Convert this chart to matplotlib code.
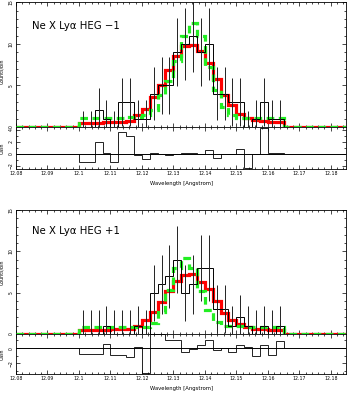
import numpy as np
import matplotlib
matplotlib.use("Agg")
import matplotlib.pyplot as plt
from matplotlib.ticker import MultipleLocator, FuncFormatter

# bin grid (Angstrom)
lam_lo = 12.1
bin_w = 0.0025
x_range = (12.08, 12.185)

# HEG -1
m1_counts = [0, 0, 2, 1, 0, 3, 3, 1, 1, 4, 5, 5, 9, 10, 11, 9, 10, 4, 4, 3, 3, 0, 1, 3, 1, 1]
m1_err = [1.9, 1.9, 2.7, 2.3, 1.9, 2.9, 2.9, 2.3, 2.3, 3.2, 3.4, 3.4, 4.1,
          4.3, 4.4, 4.1, 4.3, 3.2, 3.2, 2.9, 2.9, 1.9, 2.3, 2.9, 2.3, 2.3]
m1_red = [0.45, 0.5, 0.5, 0.55, 0.6, 0.65, 0.75, 1.4, 2.2, 3.6, 5.0, 6.9, 8.6,
          9.7, 9.9, 9.1, 7.7, 5.8, 3.9, 2.6, 1.6, 1.1, 0.85, 0.7, 0.65, 0.6]
m1_green = [1.1, 1.1, 1.1, 1.1, 1.1, 1.1, 1.2, 1.2, 1.4, 2.0, 3.8, 5.5, 8.0,
            11.0, 12.5, 11.0, 7.2, 4.5, 2.4, 1.4, 1.1, 1.1, 1.1, 1.1, 1.1, 1.1]
m1_resid = [-1.3, -1.3, 2.05, 0.2, -1.4, 3.7, 3.0, -0.2, -0.9, 0.1, 0.0, -0.1, 0.05,
            0.1, 0.15, 0.0, 0.7, -0.6, 0.0, 0.05, 0.8, -2.3, 0.0, 4.3, 0.2, 0.1]

# HEG +1
p1_counts = [0, 0, 0, 1, 0, 0, 0, 1, 0, 5, 6, 7, 9, 5, 6, 8, 8, 3, 3, 1, 2, 1, 0, 1, 0, 1]
p1_err = [2.9, 2.9, 2.9, 2.4, 2.9, 2.9, 2.9, 2.4, 2.9, 3.4, 3.6, 3.8, 4.1,
          3.4, 3.6, 4.0, 4.0, 2.9, 2.9, 2.4, 2.7, 2.4, 2.9, 2.4, 2.9, 2.4]
p1_red = [0.5, 0.5, 0.5, 0.5, 0.55, 0.55, 0.6, 1.0, 1.7, 2.7, 3.9, 5.2, 6.4,
          7.1, 7.2, 6.3, 5.4, 4.0, 2.6, 1.7, 1.2, 0.8, 0.6, 0.55, 0.5, 0.5]
p1_green = [0.8, 0.8, 0.8, 0.8, 0.8, 0.8, 0.8, 0.8, 0.9, 1.3, 2.7, 5.3, 8.0,
            9.2, 8.0, 5.2, 2.9, 1.5, 1.0, 1.0, 1.0, 0.9, 0.9, 0.9, 0.9, 0.9]
p1_resid = [-0.8, -0.8, -0.8, 0.5, -0.9, -0.9, -1.2, 0.1, -3.3, 1.9, 1.8, 1.1, 1.0,
            -0.45, -0.15, 0.35, 1.1, -0.2, 0.0, -0.45, 0.45, 0.1, -1.1, 0.35, -0.9, 0.9]

TICK_FS = 3.3


def fmt_x(v, pos):
    return ("%.2f" % v).rstrip("0").rstrip(".")


def style_axis(ax):
    ax.tick_params(which="both", direction="in", top=True, right=True,
                   width=0.5, labelsize=TICK_FS, pad=1.5)
    ax.tick_params(which="major", length=3)
    ax.tick_params(which="minor", length=1.5)
    ax.tick_params(axis="y", labelrotation=90)
    for lbl in ax.get_yticklabels():
        lbl.set_va("center")
    for s in ax.spines.values():
        s.set_linewidth(0.6)
    ax.xaxis.set_major_locator(MultipleLocator(0.01))
    ax.xaxis.set_minor_locator(MultipleLocator(0.002))
    ax.set_xlim(*x_range)


def draw_panel(fig, rect_main, rect_res, counts, err, red, green, resid,
               title, res_lim, res_ticks, title_y, ylab_y):
    n = len(counts)
    edges = lam_lo + bin_w * np.arange(n + 1)
    centers = 0.5 * (edges[:-1] + edges[1:])
    full_edges = np.concatenate([[x_range[0]], edges, [x_range[1]]])
    counts = np.array(counts, float)
    err = np.array(err, float)

    ax = fig.add_axes(rect_main)
    ax.stairs(np.concatenate([[0], red, [0]]), full_edges, baseline=None,
              color="#ff0000", lw=2.3, zorder=2)
    ax.stairs(np.concatenate([[0], green, [0]]), full_edges, baseline=None,
              color="#22ee22", lw=2.3, ls=(0, (2.4, 1.4)), zorder=3)
    ax.stairs(counts, edges, baseline=0, color="black", lw=0.7, zorder=4)
    ax.vlines(centers, counts - err, counts + err, color="#222222", lw=0.7, zorder=4)
    ax.set_ylim(0, 15)
    ax.yaxis.set_major_locator(MultipleLocator(5))
    ax.yaxis.set_minor_locator(MultipleLocator(1))
    style_axis(ax)
    ax.tick_params(axis="x", labelbottom=False)
    ax.set_ylabel("Counts/bin", fontsize=3.4, labelpad=2)
    ax.yaxis.set_label_coords(-0.035, ylab_y)
    ax.text(0.048, title_y, title, transform=ax.transAxes, fontsize=7.3,
            va="center", ha="left")

    rx = fig.add_axes(rect_res)
    rx.axhline(0, color="black", lw=0.7)
    rx.stairs(resid, edges, baseline=0, color="#222222", lw=0.7)
    rx.set_ylim(*res_lim)
    rx.set_yticks(res_ticks)
    rx.yaxis.set_minor_locator(MultipleLocator(1))
    style_axis(rx)
    rx.xaxis.set_major_formatter(FuncFormatter(fmt_x))
    rx.set_ylabel("Cash", fontsize=3.4)
    rx.yaxis.set_label_coords(-0.035, 0.5)
    rx.set_xlabel("Wavelength [Angstrom]", fontsize=3.8, labelpad=3.5)


fig = plt.figure(figsize=(3.49, 3.94), dpi=100)
L, W = 0.0458, 0.947
draw_panel(fig, [L, 0.6777, W, 0.316], [L, 0.5711, W, 0.1066],
           m1_counts, m1_err, m1_red, m1_green, m1_resid,
           "Ne X Ly\u03b1 HEG \u22121", (-2.5, 4.5), [-2, 0, 2, 4], 0.81, 0.45)
draw_panel(fig, [L, 0.1523, W, 0.3147], [L, 0.0508, W, 0.1015],
           p1_counts, p1_err, p1_red, p1_green, p1_resid,
           "Ne X Ly\u03b1 HEG +1", (-3.4, 1.85), [-2, 0], 0.83, 0.5)

fig.savefig("out.png", dpi=100)
